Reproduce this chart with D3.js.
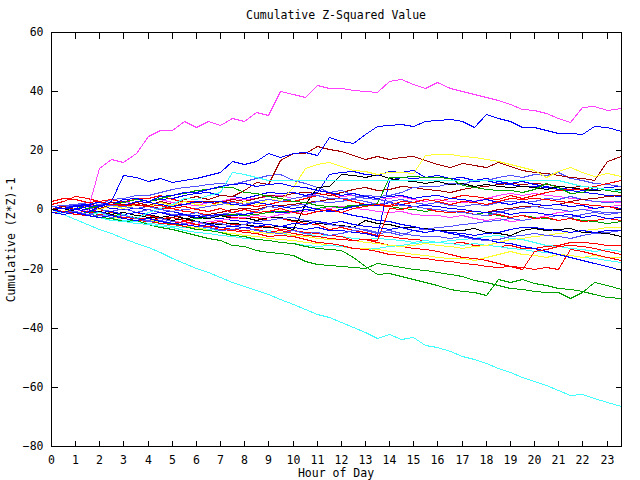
<!DOCTYPE html>
<html>
<head>
<meta charset="utf-8">
<script src="https://cdn.jsdelivr.net/npm/d3@7"></script>
<style>
  html, body { margin: 0; padding: 0; background: #ffffff; }
  svg { display: block; }
  text { font-family: "DejaVu Sans Mono", "Liberation Mono", monospace; font-size: 11.5px; fill: #000; }
</style>
</head>
<body>
<svg id="chart" width="640" height="480"></svg>
<script>
// ---------- data ----------
const chartTitle = "Cumulative Z-Squared Value";
const xTitle = "Hour of Day";
const yTitle = "Cumulative (Z*Z)-1";
const hourTicks = [0,1,2,3,4,5,6,7,8,9,10,11,12,13,14,15,16,17,18,19,20,21,22,23];
const yTicks = [-80,-60,-40,-20,0,20,40,60];
const hours = [0,0.5,1,1.5,2,2.5,3,3.5,4,4.5,5,5.5,6,6.5,7,7.5,8,8.5,9,9.5,10,10.5,11,11.5,12,12.5,13,13.5,14,14.5,15,15.5,16,16.5,17,17.5,18,18.5,19,19.5,20,20.5,21,21.5,22,22.5,23,23.6];

const redA = [0,1.5,1,2.5,2,2.5,1.5,1.5, 1,0.5,0.5,-0.5,-1,-2,-1.5,-2.5, -3,-2.5,-3.5,-3,-4,-4.5,-5,-6.5, -6,-7,-7.5,-8.5,-9,-9.5,-10,-10.5, -11,-11.5,-11,-12,-12,-12.5,-12,-13, -13,-12.5,-12,-11,-11,-11.5,-12,-12];
const redB = [1,0.5,0,-0.5,0,-1,-1.5,-1, -2,-3,-2.5,-3.5,-4,-4.5,-4,-5, -5,-6,-5.5,-6.5,-7,-7.5,-8,-8.5, -9,-10.5,-10,-11,-12,-12.5,-13,-13.5, -14,-15,-16,-16.5,-17,-18,-19,-19.5, -20,-19.5,-20,-13.5,-14,-15,-16,-17];
const redC = [2,3,4.5,4,3,3.5,2.5,4, 4,5,3.5,3,3,2.5,2,3, 2,1,2,3,3,4,5,5.5, 4,3,2,1.5,1,2,2.5,3.5, 3,4,5,4.5,4,3.5,5,4, 5,6,6.5,7,7,8,9,10];
const redD = [0,-0.5,-1,-0.5,-1.5,-2,-2.5,-3, -3,-3.5,-4.5,-4,-5,-5.5,-6,-6.5, -7,-6.5,-7.5,-7,-8,-8.5,-9,-9.5, -10,-10.5,-10,-10.4,0.5,0,1,0.5, -0.5,-1,-0.5,-1.5,-2,-1.5,-2.5,-2, -3,-2.5,-3.5,-3,-4,-3.5,-3,-3.6];
const redE = [-1,-0.5,-1.5,-2,-2.5,-2,-3,-3.5, -4,-4.5,-5,-5.5,-5,-6,-6.5,-7, -7.5,-8,-9,-8.5,-9,-10,-11,-11.5, -12,-13,-13.5,-14,-15,-15.5,-16,-16.5, -17,-17.5,-18,-18.5,-19,-19.5,-19,-20, -14,-13.5,-12.5,-12,-12.5,-13,-14,-15];
const redF = [3,4,3.5,2.5,3,2,1.5,2, 1,1.5,0.5,1,0,-0.5,0.5,-1, 0,-1,-0.5,0.5,-1,-1.5,-0.5,0, -1,0.5,1,2,1.5,3,2.5,3.5, 3,2,3,2.5,2,3,4,3.5, 4,3.5,3,2.5,2,1.5,1,0];

const blueA = [0,1,0.5,1.5,1,0.5,0,0.5, 0,-1,-0.5,-1.5,-2,-2.5,-3,-3.5, -4,-4.5,-5,-5.5,-6,-6.5,-6,-7, -7,-7.5,-8,-9,10,11,10.5,11, 11,10.5,10,9.5,10,9,8.5,8, 8,7.5,7,7.5,6.5,7,7.5,8];
const blueB = [0,0.5,1.5,2,2.5,2,3,3.5, 3,3.5,4,5,5.5,6,5,4.5, 4,5,6,5.5,6,5,6,12, 12.5,13,12,11.5,13,12.5,13.5,11, 11.5,10.5,11,10,10.5,9.5,9,9.5, 8.5,8,7,6.5,6,5.5,5,4.5];
const blueC = [0,-0.5,0.5,0,-1,-0.5,-1.5,-1, -1.5,-1,-2,-1.5,-2.5,-2,-1.5,-2, -1.5,-1,-0.5,-1,-0.5,0,-0.5,-0.2, -1,-2,-2.5,-3.5,-4,-5,-5.5,-6.5, -7,-8,-8.5,-9.5,-10,-11,-11.5,-12.5, -13,-14,-15,-16,-17,-18,-19,-20.5];
const blueD = [1,0.5,0,1,1.5,2,1.5,3, 2.5,2,1,2,3,2.5,3,2, 1.5,2.5,2,1,0.5,1,0,-0.5, 0,1,2,1.5,2.5,2,1,1.5, 1,0.5,0,-0.5,-1,-0.5,-1.5,-1, -1,-1.5,-2,-1.5,-2.5,-2,-3,-2.5];
const blueE = [0,0.5,1,1.5,3,2,3.5,4, 3,4.5,5,6,6,7,8,8.5, 9,8,8.5,9,8,7.5,6.5,6, 5,5.5,4.5,4,4.5,5,4,4.5, 5,4,3.5,3,3.5,2.5,2,3, 2,1.5,2,1,1.5,0.5,1,0.5];
const blueF = [-1,-1.5,-1,-2,-2.5,-2,-3,-3.5, -3,-4,-4.5,-5,-5.5,-5,-6,-5.5, -6,-5.5,-5,-5.5,-4.5,-5,-4,-4.5, -4,-5,-5.5,-6,-6.5,-6,-7,-7.5, -7,-7.5,-8,-8.5,-8,-7.5,-6.5,-6, -6,-6.5,-7,-7.5,-7,-7.5,-7,-7];
const blueTop = [0,-1,0.5,-1,1,3,11.6,11, 9.7,10.6,9.4,10,10.5,11.6,12.5,16.4, 15.5,16.5,19,17.6,19,19.4,18.4,24.6, 23,22.3,25.6,28.2,28.5,29,28.2,30, 30.3,30.5,30,28,32.2,31,30,27.8, 27.8,27,25.8,26,25.5,28.2,27.8,26.5];

const slateA = [0,1,1.5,2.5,2,3.5,4,5, 5,6,7,7.5,8,8.5,9,8.5, 9.5,10.5,11.5,12,10,9,7.5,6, 6.5,5,4,3.5,3,3.5,2.5,2, 2.5,1.5,1,2,1.5,2.5,3,2.5, 3,4,3.5,4.5,3.5,3,2.5,3];
const slateB = [0,0.5,1,0.5,0,-0.5,0.5,-1, 0,-1,-1.5,-2,-1,-2.5,-1.5,-1, -1.5,-0.5,1,0.5,1.5,2,3,2.5, 3,4,5,4.5,5,6,7.5,8, 8,9,8.5,10,10,11,11.5,11, 12,11.5,12.5,10.5,10,9,8.5,8];
const slateC = [0,-0.5,-1,-1.5,-1,-2,-2.5,-3, -3.5,-3,-4,-4.5,-4,-5,-4.5,-5.5, -5,-4,-3.5,-3,-2.5,-3.5,-4,-5, -5.5,-6,-7,-8,-7.5,-8.5,-7,-6.5, -6,-5.5,-5,-4.5,-4,-3.5,-3,-3.5, -3,-2.5,-2,-2.5,-1.5,-1,-1.5,-1];
const slateD = [1,1.5,2,2.5,2,1.5,1,0.5, 1,0,-0.5,0,0.5,1,2,2.5, 2,3,3.5,3,4,4.5,5,4, 4,3.5,3,2,2.5,1.5,1,0.5, 0,-0.5,-1,-1.5,-2,-1,0,0.5, 1,0.5,0,-0.5,0,-0.5,-1,-1];
const slateE = [0,-1,-0.5,-1.5,-2,-2.5,-2,-3, -4,-3.5,-4.5,-5,-5.5,-6,-7,-6.5, -6,-7,-7.5,-8,-7,-8,-7.5,-8.5, -8,-7,-6.5,-7.5,-7,-8,-8.5,-9, -9,-9.5,-9,-10,-10.5,-10,-9,-8.5, -8,-8.5,-9,-9.5,-8.5,-8,-7.5,-7];

const greenA = [0,0.5,1,0.5,1.5,2,2.5,3.5, 3,4,5,5.5,6.5,7,7.7,7.5, 6,5.5,4.5,4,3,2.5,1.5,1, 0.8,1,1.5,2.1,11,11,11.2,11, 11,10.5,8.2,7.5,7,6.5,6.5,6, 7,8.9,7.5,5.5,6,7.7,6.5,6];
const greenB = [0,-0.5,0.5,-1,-1.5,-1,-2,-2.5, -2,-3,-2.5,-3.5,-3,-2.5,-2,-1.5, -2,-1.5,-1,-0.5,-1,0,0.5,1, 1,1.5,2,1.5,1,0.5,0,-0.5, 0,-0.5,-1,-1.5,-1,-2,-2.5,-2, -2.5,-3,-3.5,-3,-3.5,-4,-4.5,-4];
const greenLowA = [0,-0.5,-1.5,-1,-2.5,-3,-4,-3.5, -5,-6,-6.5,-7.5,-8.5,-9.5,-10.5,-12, -12.5,-13.7,-14.3,-14.8,-15.5,-17.5,-18.3,-18.8, -19,-19.3,-19.8,-18.2,-18.8,-19.5,-20,-20.5, -21,-21.8,-22.5,-24,-24.5,-25.5,-26.5,-27, -27.5,-27.8,-28,-30,-28,-24.5,-25.5,-27];
const greenLowB = [0,1,0,-0.5,-1,-2,-2,-3, -3.5,-4.5,-4.5,-5.5,-6.5,-7,-7.5,-8.5, -9,-10,-10.5,-11,-11.5,-12.5,-13,-13.5, -13.7,-16,-19,-21.8,-21.5,-22.5,-23.5,-24.5, -25.5,-27,-27.5,-28,-29,-23.5,-24.5,-23.5, -25,-25.5,-26.5,-27,-27.5,-28.5,-29.5,-30];

const magentaTop = [0,0.5,0,-0.5,14,17,16,19, 25,27,27,30,28,30,28.5,31, 30,33,32,40,39,38,42,41, 41,40.5,40,39.6,43.5,44,42.5,41, 43,41,40,39,38,37,35.5,34, 33.5,32.5,31,29.5,34.5,35,33.5,34.3];
const magentaB = [0,1,1.5,2,1,2.5,3,2, 3,3.5,2.5,2,1.5,2.5,3,4, 3.5,4,4.5,5,4,4.5,5.5,5, 4.5,5,4,3.5,4,4.5,3.5,3, 3.5,3,2.5,3,4,5,5.5,5, 5.5,5,4.5,4,3.5,3,3,2.6];
const magentaC = [0,-0.5,-1,-1.5,-2,-1.5,-2.5,-3, -3.5,-4,-3.5,-4.5,-5,-4,-3.5,-3, -2.5,-2,-2.5,-1.5,-1,-0.5,0,0.5, 1,0.5,0,-0.5,-1,-0.5,-1.5,-2, -2,-2.5,-2,-3,-3.5,-3,-4,-3.5, -3,-2,-1,-0.5,0,0.5,1,1.5];

const cyanLow = [0,-1.6,-3.3,-5,-6.5,-8,-9.6,-11.2, -12.8,-14.5,-16.3,-18,-19.8,-21.3,-22.8,-24.4, -25.9,-27.3,-28.7,-30.3,-32,-33.7,-35.5,-36.3, -38,-39.8,-41.6,-43.4,-42,-43.8,-43.3,-45.8, -46.6,-48,-49.5,-50.5,-52,-53.5,-55,-56.7, -58,-59.5,-61,-62.8,-62.4,-63.8,-65,-66.5];
const cyanFlat = [0,-1,-0.5,-2,-1,-2.5,-1.5,-3, -1,0.5,2,3.8,3.5,5,6,12.5, 12,11,10,10,10,10,10,10, 10,10,10,10,10,10,10,10, 10,10,10,10,10,10,10,10, 10,10,9.8,9,8,7.5,7,6.5];
const cyanC = [0,-1,-1.5,-2,-2.5,-3,-3.5,-4, -4.5,-5,-5.5,-6,-6,-6.5,-7,-6.5, -7,-7.5,-7,-8,-8.5,-8,-9,-8.5, -9,-9.5,-10,-9.5,-10,-10.5,-11,-10.5, -11,-11.5,-12,-11.5,-12,-12.5,-13,-13.5, -14,-14.5,-15,-15.5,-16,-16.5,-17,-17.7];
const cyanD = [0,-0.5,-1,-2,-2.5,-3.5,-4,-4.5, -5,-5.5,-6,-7,-7.5,-8,-8.5,-9, -9.5,-10,-10.5,-11,-11.5,-12,-12.5,-12, -12.5,-13,-13.5,-13,-12.5,-12,-11.5,-11, -11,-10.5,-10,-9.5,-9,-8.5,-9.5,-10, -11,-12,-12.5,-13,-13.5,-14,-13.5,-14];

const darkredTop = [0,1,0,1.5,0.5,2,1,2.5, 1.5,3,2,3.5,4.5,3.5,5,4.5, 6.5,9.4,8.6,16.8,19,19,21.4,20.5, 19.9,18.5,16.9,18,17,17.8,18.2,16.6, 15.3,14.4,15.6,15,14.4,16,14.6,13.3, 12.8,12.2,11.5,11,10.5,10,16.5,18];
const darkredB = [0,0.5,1,2,1.5,2.5,2,1.5, 1,0.5,1.5,2,2.5,3,2.5,3.5, 3,4,5,4.5,5.5,6,5.5,5, 6,7,7.5,6.5,7,8,7.5,7, 6.5,6,7,7.5,8,8.5,9,8.5, 9,8.5,8,7.5,8,7.5,7,7];
const darkredC = [0,-0.5,-1,-1.5,-1,-2,-2.5,-3, -3,-3.5,-2.5,-2,-2.5,-1.5,-1,0, 0.5,0,1,1.5,2,2.5,3,3.5, 4,3.5,3,2,2.5,1.5,1,0.5, 0,-0.5,-1,-0.5,-1,0,0.5,1, 1,1.5,2,3,3.5,4,4.5,5];

const yellowTop = [0,-0.5,0.5,1,0,1.5,0.5,2, 1,2.5,1.5,3,2,1,2.5,1.5, 3,2,3.5,3.2,7.7,14.1,15.5,16, 14.7,13.5,13,12,12.5,12.8,12.3,18.4, 18.6,18.7,18.2,17.8,17.2,16.5,15.2,14.2, 13.3,10.8,13,14.2,12.5,11.3,12.2,11.3];
const yellowB = [0,-0.5,-1,-1.5,-2,-2.5,-3,-3.5, -4,-4.5,-5,-5.5,-6,-7,-7.5,-8, -8.5,-9,-9.5,-10,-10.5,-11,-11.5,-12, -12.5,-13,-13,-13.5,-14,-14.5,-15,-15.5, -16,-16.5,-16.5,-17,-16,-15,-14,-15, -15.5,-16,-15,-15.5,-16,-15.5,-16,-16];
const yellowC = [0,-1,-0.5,-1.5,-2,-2.5,-2,-3, -3.5,-4,-4.5,-4,-5,-5.5,-6,-6.5, -7,-7.5,-8,-7.5,-8.5,-9,-9.5,-10, -10,-10.5,-11,-11.5,-12,-12.5,-12,-11.5, -12,-12.5,-13,-12.5,-12,-11,-10,-9.5, -9,-8.5,-8,-7.5,-7,-6.5,-6,-5.8];

const blackA = [0,-0.5,0.5,-1,-0.5,-1.5,-1,-2, -1.5,-2.5,-2,-3,-2.5,-3,-2,-3, -2.5,-3.5,-2.5,-2.5,-3.6,-4,-4.6,-5, -5.3,-6,-3.6,-4.6,-4.8,-5.8,-6,-6.3, -7,-6.8,-7,-6.3,-7.5,-8,-8.7,-7, -6.3,-7,-6.5,-6.3,-7.5,-7.5,-8,-9];
const blackB = [0,0.5,-0.5,0,-1,-1.5,-1,-2, -2.5,-3,-3.5,-3,-4,-4.5,-5,-4.5, -5,-5.5,-6,-5.5,-6.5,2,7.5,8, 12,11.5,11,12,10.5,10,9.5,9, 9.5,8.5,9,8,8.5,8,7.5,8, 7.5,7,8,7.5,7,6.5,7,7];

const seriesColors = {
  red: "#ff0000", green: "#00a000", blue: "#0000ff", magenta: "#ff40ff",
  cyan: "#40ffff", darkred: "#a00000", yellow: "#ffff30", black: "#000000", slate: "#5050ff"
};

const series = [
  {values: redA, color: "red"}, {values: greenB, color: "green"}, {values: blueA, color: "blue"},
  {values: magentaB, color: "magenta"}, {values: cyanC, color: "cyan"}, {values: darkredB, color: "darkred"},
  {values: yellowB, color: "yellow"}, {values: blackA, color: "black"}, {values: slateA, color: "slate"},
  {values: redB, color: "red"}, {values: greenLowA, color: "green"}, {values: blueB, color: "blue"},
  {values: magentaC, color: "magenta"}, {values: cyanD, color: "cyan"}, {values: darkredC, color: "darkred"},
  {values: yellowC, color: "yellow"}, {values: blackB, color: "black"}, {values: slateB, color: "slate"},
  {values: redC, color: "red"}, {values: greenLowB, color: "green"}, {values: blueC, color: "blue"},
  {values: magentaTop, color: "magenta"}, {values: cyanLow, color: "cyan"}, {values: darkredTop, color: "darkred"},
  {values: yellowTop, color: "yellow"}, {values: slateC, color: "slate"},
  {values: redD, color: "red"}, {values: greenA, color: "green"}, {values: blueD, color: "blue"},
  {values: cyanFlat, color: "cyan"}, {values: slateD, color: "slate"},
  {values: redE, color: "red"}, {values: blueE, color: "blue"}, {values: slateE, color: "slate"},
  {values: redF, color: "red"}, {values: blueF, color: "blue"}, {values: blueTop, color: "blue"}
];

// ---------- drawing ----------
const svg = d3.select("#chart");
const plotLeft = 51, plotRight = 621, plotTop = 32, plotBottom = 446;

const x = d3.scaleLinear().domain([0, 23.6]).range([plotLeft, plotRight]);
const y = d3.scaleLinear().domain([-80, 60]).range([plotBottom, plotTop]);

svg.append("rect").attr("width", 640).attr("height", 480).attr("fill", "#fff");

const line = d3.line()
  .x((d, i) => Math.round(x(hours[i])) + 0.5)
  .y(d => Math.round(y(d)) + 0.5);

const g = svg.append("g");
g.selectAll("path.series")
  .data(series)
  .join("path")
  .attr("class", "series")
  .attr("fill", "none")
  .attr("stroke", d => seriesColors[d.color])
  .attr("stroke-width", 1)
  .attr("shape-rendering", "crispEdges")
  .attr("d", d => line(d.values));

// axes with inward ticks
const tickLen = 6;
const axB = svg.append("g").attr("transform", `translate(0,${plotBottom + 0.5})`)
  .call(d3.axisBottom(x).tickValues(hourTicks).tickFormat(d3.format("d")).tickSizeInner(-tickLen).tickSizeOuter(0).tickPadding(9));
const axT = svg.append("g").attr("transform", `translate(0,${plotTop + 0.5})`)
  .call(d3.axisTop(x).tickValues(hourTicks).tickFormat("").tickSizeInner(-tickLen).tickSizeOuter(0));
const axL = svg.append("g").attr("transform", `translate(${plotLeft + 0.5},0)`)
  .call(d3.axisLeft(y).tickValues(yTicks).tickFormat(d3.format("d")).tickSizeInner(-tickLen).tickSizeOuter(0).tickPadding(8));
const axR = svg.append("g").attr("transform", `translate(${plotRight + 0.5},0)`)
  .call(d3.axisRight(y).tickValues(yTicks).tickFormat("").tickSizeInner(-tickLen).tickSizeOuter(0));

[axB, axT, axL, axR].forEach(a => {
  a.select(".domain").remove();
  a.selectAll("line").attr("stroke", "#000").attr("shape-rendering", "crispEdges");
  a.selectAll("text").attr("font-family", null).attr("font-size", null).attr("fill", "#000");
});
axB.selectAll(".tick").attr("transform", d => `translate(${Math.round(x(d)) + 0.5},0)`);
axT.selectAll(".tick").attr("transform", d => `translate(${Math.round(x(d)) + 0.5},0)`);
axL.selectAll(".tick").attr("transform", d => `translate(0,${Math.round(y(d)) + 0.5})`);
axR.selectAll(".tick").attr("transform", d => `translate(0,${Math.round(y(d)) + 0.5})`);

// frame
svg.append("rect")
  .attr("x", plotLeft + 0.5).attr("y", plotTop + 0.5)
  .attr("width", plotRight - plotLeft).attr("height", plotBottom - plotTop)
  .attr("fill", "none").attr("stroke", "#000").attr("shape-rendering", "crispEdges");

// titles
svg.append("text").attr("x", 336).attr("y", 19).attr("text-anchor", "middle").text(chartTitle);
svg.append("text").attr("x", 336).attr("y", 477).attr("text-anchor", "middle").text(xTitle);
svg.append("text").attr("transform", "translate(15,240) rotate(-90)").attr("text-anchor", "middle").text(yTitle);
</script>
</body>
</html>
